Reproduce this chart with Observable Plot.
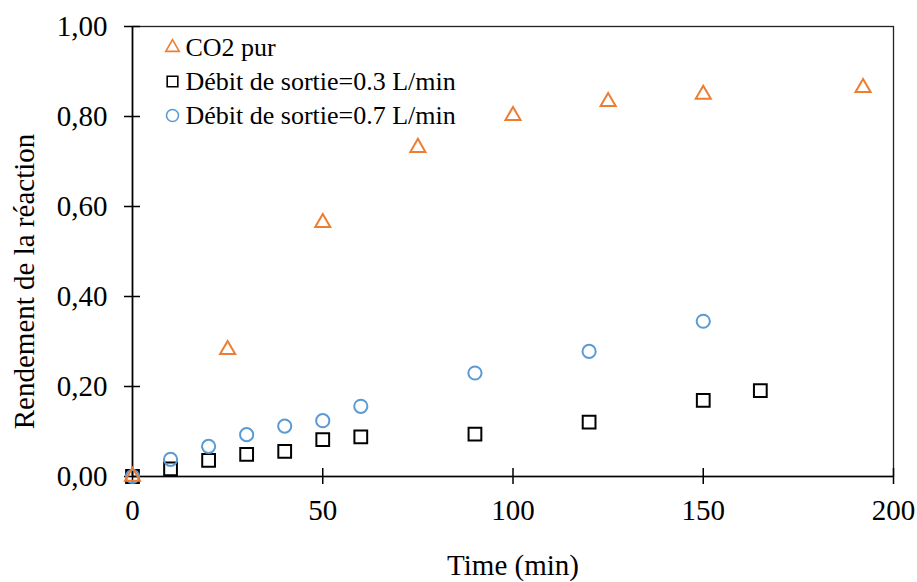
<!DOCTYPE html>
<html><head><meta charset="utf-8">
<script src="https://cdn.jsdelivr.net/npm/d3@7"></script>
<script src="https://cdn.jsdelivr.net/npm/@observablehq/plot@0.6"></script>
<style>body{margin:0;background:#fff}</style>
</head><body><div id="chart"></div>
<script>
// ---- data ----
const timeCO2 = [0, 25, 50, 75, 100, 125, 150, 192];
const yieldCO2 = [0, 0.282, 0.564, 0.731, 0.802, 0.833, 0.849, 0.864];
const time03 = [0, 10, 20, 30, 40, 50, 60, 90, 120, 150, 165];
const yield03 = [0, 0.017, 0.036, 0.049, 0.056, 0.082, 0.088, 0.094, 0.121, 0.169, 0.191];
const time07 = [0, 10, 20, 30, 40, 50, 60, 90, 120, 150];
const yield07 = [0, 0.038, 0.067, 0.093, 0.112, 0.124, 0.156, 0.230, 0.278, 0.345];
const seriesNames = ["CO2 pur", "Débit de sortie=0.3 L/min", "Débit de sortie=0.7 L/min"];
const xTicks = [0, 50, 100, 150, 200];
const yTicks = [0, 0.2, 0.4, 0.6, 0.8, 1.0];
const xLabel = "Time (min)";
const yLabel = "Rendement de la réaction";

// ---- build ----
const toRows = (xs, ys) => xs.map((x, i) => ({x, y: ys[i]}));
const dCO2 = toRows(timeCO2, yieldCO2);
const d03 = toRows(time03, yield03);
const d07 = toRows(time07, yield07);

const styles = [
  {symbol: "triangle", stroke: "#ED7D31", r: 5.6, lr: 5},
  {symbol: "square", stroke: "#000000", r: 7.2, lr: 6},
  {symbol: "circle", stroke: "#5B9BD5", r: 6.6, lr: 6}
];
const FONT = "'Liberation Serif', 'Times New Roman', serif";
const fmtY = d => d.toFixed(2).replace(".", ",");

const legendMarks = [];
seriesNames.forEach((name, i) => {
  const st = styles[i];
  legendMarks.push(Plot.dot([name], {frameAnchor: "top-left", dx: 40, dy: 21 + i * 34,
    symbol: st.symbol, r: st.lr, stroke: st.stroke, strokeWidth: 1.6, fill: "none"}));
  legendMarks.push(Plot.text([name], {text: d => d, frameAnchor: "top-left", dx: 53, dy: 21 + i * 34,
    textAnchor: "start", lineAnchor: "middle", fontSize: 26, fontFamily: FONT, fill: "#000"}));
});

const chart = Plot.plot({
  width: 917, height: 582,
  marginLeft: 132, marginRight: 24, marginTop: 26, marginBottom: 106,
  style: {fontFamily: FONT, fontSize: "29px", color: "#000", background: "#fff"},
  x: {domain: [0, 200], label: null},
  y: {domain: [0, 1], label: null},
  marks: [
    Plot.frame({stroke: "#222", strokeWidth: 1.3}),
    Plot.ruleY([0], {stroke: "#000", strokeWidth: 1.6}),
    Plot.ruleX([0], {stroke: "#000", strokeWidth: 1.6}),
    Plot.axisX({ticks: xTicks, tickSize: 8, tickPadding: 15, tickFormat: d => String(d), fontSize: 29, strokeWidth: 1.5, label: null}),
    Plot.axisX({ticks: xTicks, tickSize: 8, dy: -8, fill: "none", strokeWidth: 1.5, label: null}),
    Plot.axisY({ticks: yTicks, tickSize: 8, tickPadding: 17, tickFormat: fmtY, fontSize: 29, strokeWidth: 1.5, label: null}),
    Plot.axisY({ticks: yTicks, tickSize: 8, dx: 8, fill: "none", strokeWidth: 1.5, label: null}),
    Plot.dot(d03, {x: "x", y: "y", symbol: "square", r: styles[1].r, stroke: styles[1].stroke, strokeWidth: 2, fill: "none"}),
    Plot.dot(d07, {x: "x", y: "y", symbol: "circle", r: styles[2].r, stroke: styles[2].stroke, strokeWidth: 2, fill: "none"}),
    Plot.dot(dCO2, {x: "x", y: "y", symbol: "triangle", r: styles[0].r, stroke: styles[0].stroke, strokeWidth: 2, fill: "none"}),
    ...legendMarks,
    Plot.text([xLabel], {text: d => d, frameAnchor: "bottom", dy: 89, textAnchor: "middle", lineAnchor: "middle", fontSize: 29, fill: "#000"}),
    Plot.text([yLabel], {text: d => d, frameAnchor: "left", dx: -108, dy: 30, rotate: -90, textAnchor: "middle", lineAnchor: "middle", fontSize: 29, fill: "#000"})
  ]
});
document.getElementById("chart").appendChild(chart);
</script>
</body></html>
